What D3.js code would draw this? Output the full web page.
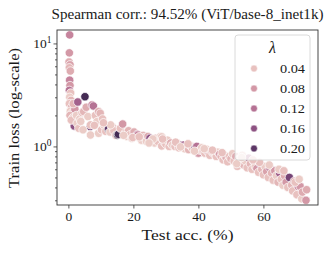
<!DOCTYPE html>
<html>
<head>
<meta charset="utf-8">
<script src="https://cdn.jsdelivr.net/npm/d3@7"></script>
<style>
  body { margin: 0; background: #fff; }
  svg text { font-family: "Liberation Serif", "DejaVu Serif", serif; fill: #1a1a1a; }
</style>
</head>
<body>
<svg id="chart" width="329" height="256"></svg>
<script>
// test accuracy (%) per run
const testAcc = [
  1.8,
  0.4, 0.3, 0.2, 0.5, 0.3, 0.6, 0.4, 0.5, 0.3, 0.7, 0.4, 0.8, 0.3, 1.0, 0.6, 1.1, 0.5, 1.4, 0.9,
  2.0, 1.5, 2.5, 2.9, 2.7, 3.2, 3.5, 4.2, 4.7, 5.1, 5.5, 6.0, 6.7, 6.8, 6.8, 7.3, 7.7, 8.3, 8.8,
  9.3, 9.3, 9.8, 10.5, 10.2, 11.0, 11.5, 12.3, 12.4, 12.8, 13.5, 14.0, 14.6, 15.1, 15.4, 16.0, 16.7,
  17.5, 18.0, 18.5, 19.0, 19.5, 20.2, 21.2, 21.4, 22.0, 22.5, 23.0, 23.5, 24.0, 24.5, 25.1, 25.8,
  26.5, 27.0, 27.5, 28.2, 28.7, 28.7, 29.5, 30.0, 30.5, 31.0, 31.5, 32.0, 32.8, 33.5, 34.0, 34.9,
  35.4, 35.8, 36.5, 37.0, 37.5, 38.2, 39.0, 39.5, 40.0, 40.5, 41.0, 41.5, 42.0, 42.5, 43.0, 43.5,
  44.0, 44.6, 45.0, 45.5, 46.0, 46.5, 47.0, 47.6, 48.0, 48.5, 49.0, 49.5, 50.0, 50.5,
  51.0, 51.5, 52.0, 52.5, 53.0, 53.5, 54.0, 54.5, 55.0, 55.5, 56.0, 56.5, 57.0, 57.5, 58.0, 58.5,
  59.0, 59.5, 60.0, 60.5, 61.0, 61.5, 62.0, 62.5, 63.0, 63.5, 64.0, 64.5, 65.0, 65.5, 66.0, 66.5,
  67.0, 67.5, 68.0, 68.7, 69.0, 69.5, 70.3, 70.7, 71.3, 71.8, 72.0, 73.1, 73.3,
  3.8, 8.0, 13.0, 19.8, 26.0, 33.0, 38.8, 44.3, 51.8, 58.8, 64.8, 69.8,
  4.5, 10.8, 17.0, 21.8, 24.8, 29.0, 34.5, 36.8, 41.8, 47.3, 53.3, 56.8, 61.8, 66.3, 71.0
];
// train loss (log-scale)
const trainLoss = [
  1.58,
  12.1, 8.1, 6.6, 6.2, 5.8, 5.4, 4.4, 3.9, 3.5, 3.3, 3.0, 2.8, 2.6, 2.4, 2.2, 2.1, 2.0, 1.9, 1.8,
  2.3, 2.6, 2.0, 2.7, 1.68, 1.5, 1.85, 2.13, 2.18, 3.04, 2.4, 1.95, 1.56, 1.62, 1.29, 2.53, 2.47, 2.0, 1.74,
  2.18, 1.34, 2.1, 1.85, 1.45, 1.6, 1.4, 1.47, 1.5, 1.38, 1.55, 1.42, 1.28, 1.29, 1.31, 1.5, 1.65,
  1.35, 1.25, 1.42, 1.3, 1.2, 1.38, 1.31, 1.29, 1.2, 1.15, 1.28, 1.22, 1.12, 1.25, 1.2, 1.15,
  1.08, 1.2, 1.12, 1.24, 1.24, 1.01, 1.1, 1.05, 1.15, 1.0, 1.08, 1.03, 1.0, 1.07, 0.97, 1.03,
  1.03, 0.95, 1.0, 0.93, 1.02, 0.96, 0.96, 1.0, 0.86, 0.92, 0.97, 0.9, 0.86, 0.94, 0.88, 0.82,
  0.9, 0.86, 0.86, 0.8, 0.88, 0.84, 0.8, 0.74, 0.82, 0.78, 0.71, 0.8, 0.76, 0.85,
  0.72, 0.8, 0.64, 0.75, 0.69, 0.82, 0.66, 0.72, 0.62, 0.77, 0.68, 0.6, 0.72, 0.64, 0.61, 0.56,
  0.68, 0.6, 0.53, 0.64, 0.57, 0.5, 0.62, 0.55, 0.47, 0.58, 0.52, 0.45, 0.55, 0.48, 0.42, 0.52,
  0.45, 0.4, 0.5, 0.42, 0.37, 0.46, 0.34, 0.41, 0.41, 0.31, 0.36, 0.30, 0.38,
  1.75, 1.6, 1.62, 1.22, 1.18, 1.1, 0.9, 0.92, 0.68, 0.7, 0.6, 0.45,
  1.45, 1.7, 1.28, 1.24, 1.08, 1.18, 0.99, 1.06, 0.95, 0.87, 0.78, 0.74, 0.66, 0.58, 0.48
];
// lambda per run
const lambda = [
  0.16,
  0.10, 0.08, 0.06, 0.07, 0.05, 0.06, 0.10, 0.08, 0.12, 0.04, 0.03, 0.05, 0.04, 0.06, 0.03, 0.04, 0.05, 0.03, 0.04,
  0.08, 0.05, 0.03, 0.14, 0.03, 0.04, 0.03, 0.04, 0.05, 0.22, 0.06, 0.03, 0.18, 0.04, 0.03, 0.10, 0.12, 0.04, 0.03,
  0.06, 0.03, 0.05, 0.04, 0.04, 0.03, 0.04, 0.24, 0.20, 0.03, 0.05, 0.04, 0.04, 0.24, 0.22, 0.04, 0.08,
  0.04, 0.03, 0.05, 0.04, 0.03, 0.06, 0.12, 0.10, 0.04, 0.03, 0.05, 0.04, 0.03, 0.06, 0.16, 0.04,
  0.03, 0.05, 0.04, 0.03, 0.03, 0.04, 0.05, 0.04, 0.03, 0.04, 0.06, 0.03, 0.04, 0.05, 0.04, 0.16,
  0.14, 0.03, 0.04, 0.05, 0.03, 0.04, 0.18, 0.12, 0.08, 0.04, 0.03, 0.05, 0.04, 0.03, 0.06, 0.04,
  0.05, 0.04, 0.03, 0.04, 0.03, 0.08, 0.05, 0.04, 0.03, 0.06, 0.04, 0.04, 0.05, 0.03,
  0.04, 0.06, 0.04, 0.03, 0.08, 0.04, 0.05, 0.03, 0.04, 0.12, 0.05, 0.04, 0.06, 0.03, 0.08, 0.04,
  0.16, 0.05, 0.04, 0.03, 0.07, 0.04, 0.12, 0.05, 0.04, 0.08, 0.03, 0.05, 0.14, 0.04, 0.03, 0.06,
  0.08, 0.04, 0.18, 0.05, 0.04, 0.08, 0.04, 0.10, 0.08, 0.03, 0.06, 0.08, 0.06,
  0.03, 0.04, 0.03, 0.04, 0.03, 0.04, 0.03, 0.04, 0.03, 0.04, 0.03, 0.04,
  0.03, 0.04, 0.03, 0.04, 0.03, 0.04, 0.03, 0.04, 0.03, 0.04, 0.03, 0.04, 0.03, 0.04, 0.03
];
const legendLevels = [0.04, 0.08, 0.12, 0.16, 0.20];
const xTicks = [0, 20, 40, 60];
const titleText = "Spearman corr.: 94.52% (ViT/base-8_inet1k)";

const W = 329, H = 256;
const margin = { top: 30, right: 11, bottom: 51, left: 57 };

const svg = d3.select("#chart");

const x = d3.scaleLinear().domain([-3.5, 76.8]).range([margin.left, W - margin.right]);
const y = d3.scaleLog().domain([0.27, 13.5]).range([H - margin.bottom, margin.top]);

// seaborn-style cubehelix (light -> dark)
function cubehelix(t) {
  const v = 0.85 + (0.15 - 0.85) * t;
  const a = 0.8 * v * (1 - v) / 2;
  const phi = 2 * Math.PI * (0 / 3 + 0.4 * v);
  const c = Math.cos(phi), s = Math.sin(phi);
  const r = v + a * (-0.14861 * c + 1.78277 * s);
  const g = v + a * (-0.29227 * c - 0.90649 * s);
  const b = v + a * (1.97294 * c);
  const cl = u => Math.round(Math.max(0, Math.min(1, u)) * 255);
  return d3.rgb(cl(r), cl(g), cl(b)).formatHex();
}
const color = d3.scaleSequential(cubehelix).domain([0.025, 0.24]);

// axes
const xAxis = d3.axisBottom(x).tickValues(xTicks).tickSize(3.5).tickPadding(3).tickFormat(d3.format("d"));
const gx = svg.append("g")
  .attr("transform", "translate(0," + (H - margin.bottom) + ")")
  .call(xAxis);
gx.select(".domain").remove();
gx.selectAll("text").attr("font-size", 13.5);

const minorY = [0.3, 0.4, 0.5, 0.6, 0.7, 0.8, 0.9, 2, 3, 4, 5, 6, 7, 8, 9];
const gy = svg.append("g").attr("transform", "translate(" + margin.left + ",0)");
gy.call(d3.axisLeft(y).tickValues([1, 10]).tickSize(3.5).tickFormat(""));
gy.append("g").call(d3.axisLeft(y).tickValues(minorY).tickSize(2).tickFormat(""));
gy.selectAll(".domain").remove();
[[1, "0"], [10, "1"]].forEach(([v, e]) => {
  const t = gy.append("text").attr("x", -5.5).attr("y", y(v) + 4.8)
    .attr("text-anchor", "end").attr("font-size", 13.5);
  t.append("tspan").text("10");
  t.append("tspan").attr("dy", -5.5).attr("font-size", 9.5).text(e);
});
svg.selectAll(".tick line").attr("stroke", "#333").attr("stroke-width", 0.8);

// points
const plot = svg.append("g");
plot.selectAll("circle")
  .data(testAcc.map((a, i) => ({ acc: a, loss: trainLoss[i], lam: lambda[i] })))
  .join("circle")
  .attr("cx", d => x(d.acc))
  .attr("cy", d => y(d.loss))
  .attr("r", 4.2)
  .attr("fill", d => color(d.lam))
  .attr("stroke", "#fff")
  .attr("stroke-width", 0.7);

// frame
svg.append("rect")
  .attr("x", margin.left).attr("y", margin.top)
  .attr("width", W - margin.left - margin.right)
  .attr("height", H - margin.top - margin.bottom)
  .attr("fill", "none").attr("stroke", "#333").attr("stroke-width", 0.9);

// legend
const lg = svg.append("g").attr("transform", "translate(235,35)");
lg.append("rect").attr("width", 75).attr("height", 125).attr("rx", 3)
  .attr("fill", "#fff").attr("fill-opacity", 0.8).attr("stroke", "#d0d0d0").attr("stroke-width", 0.8);
lg.append("text").attr("x", 37.5).attr("y", 18).attr("text-anchor", "middle")
  .attr("font-size", 16).attr("font-style", "italic").text("λ");
legendLevels.forEach((v, i) => {
  const yy = 33.5 + i * 20;
  lg.append("circle").attr("cx", 19).attr("cy", yy).attr("r", 3.4)
    .attr("fill", color(v)).attr("stroke", "#fff").attr("stroke-width", 0.5);
  lg.append("text").attr("x", 70).attr("y", yy + 4.6).attr("text-anchor", "end")
    .attr("font-size", 13.5).attr("textLength", 25).attr("lengthAdjust", "spacingAndGlyphs")
    .text(v.toFixed(2));
});

// titles
svg.append("text").attr("x", 187.5).attr("y", 19).attr("text-anchor", "middle")
  .attr("font-size", 14).attr("textLength", 272).attr("lengthAdjust", "spacingAndGlyphs")
  .text(titleText);
svg.append("text").attr("x", 187.5).attr("y", 240).attr("text-anchor", "middle")
  .attr("font-size", 15.5).attr("textLength", 92).attr("lengthAdjust", "spacingAndGlyphs")
  .text("Test acc. (%)");
svg.append("text").attr("transform", "translate(19,118) rotate(-90)")
  .attr("text-anchor", "middle").attr("font-size", 15.5)
  .attr("textLength", 140).attr("lengthAdjust", "spacingAndGlyphs")
  .text("Train loss (log-scale)");
</script>
</body>
</html>
